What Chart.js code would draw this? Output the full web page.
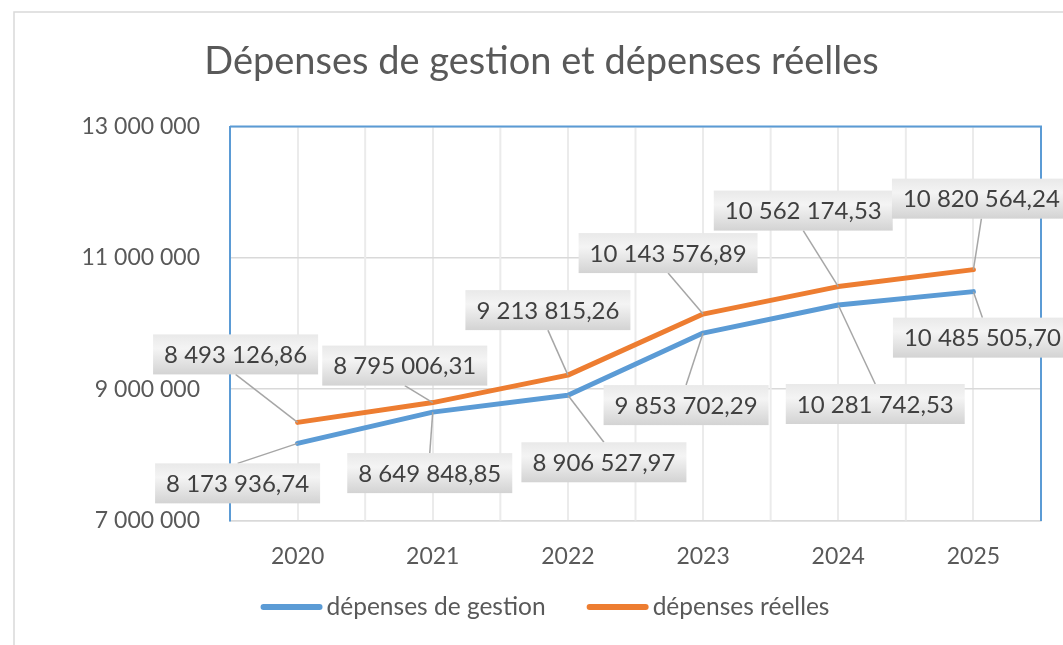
<!DOCTYPE html>
<html>
<head>
<meta charset="utf-8">
<script src="https://cdn.jsdelivr.net/npm/chart.js@4/dist/chart.umd.min.js"></script>
<style>
  html, body { margin: 0; padding: 0; background: #fff; }
  #wrap { width: 1063px; height: 645px; }
</style>
</head>
<body>
<div id="wrap"><canvas id="myChart" width="1063" height="645"></canvas></div>
<script>
const years = ['2020', '2021', '2022', '2023', '2024', '2025'];
const depensesGestion = [8173936.74, 8649848.85, 8906527.97, 9853702.29, 10281742.53, 10485505.70];
const depensesReelles = [8493126.86, 8795006.31, 9213815.26, 10143576.89, 10562174.53, 10820564.24];
const yTicks = [7000000, 9000000, 11000000, 13000000];
const seriesNames = ['dépenses de gestion', 'dépenses réelles'];

// label box offsets from their point (px), per series
const labelOffsets = [
  [[-60, 40], [-3, 61], [36, 67], [-17, 72], [37, 99], [9, 46]],
  [[-62, -68], [-28, -37], [-20, -65], [-35, -61], [-35, -76], [8, -71]]
];

const blue = '#5B9BD5';
const orange = '#ED7D31';
const textGrey = '#595959';

function frNumber(v, decimals) {
  const fixed = v.toFixed(decimals);
  const [intPart, decPart] = fixed.split('.');
  const grouped = intPart.replace(/\B(?=(\d{3})+(?!\d))/g, ' ');
  return decPart ? grouped + ',' + decPart : grouped;
}

const framePlugin = {
  id: 'frame',
  beforeDraw(chart) {
    const ctx = chart.ctx;
    ctx.save();
    ctx.fillStyle = '#fff';
    ctx.fillRect(0, 0, chart.width, chart.height);
    ctx.strokeStyle = '#d9d9d9';
    ctx.lineWidth = 1.5;
    ctx.strokeRect(14, 12, chart.width + 50, chart.height + 50);
    ctx.restore();
  },
  beforeDatasetsDraw(chart) {
    const {ctx, chartArea, scales} = chart;
    const xs = scales.x;
    ctx.save();
    // vertical gridlines between categories
    ctx.strokeStyle = '#ebebeb';
    ctx.lineWidth = 2;
    for (let i = 0; i < years.length - 1; i++) {
      const px = (xs.getPixelForValue(i) + xs.getPixelForValue(i + 1)) / 2;
      ctx.beginPath();
      ctx.moveTo(px, chartArea.top);
      ctx.lineTo(px, chartArea.bottom);
      ctx.stroke();
    }
    // top border of plot area
    ctx.strokeStyle = blue;
    ctx.lineWidth = 2;
    ctx.beginPath();
    ctx.moveTo(chartArea.left, chartArea.top);
    ctx.lineTo(chartArea.right + 1, chartArea.top);
    ctx.stroke();
    ctx.restore();
  },
  afterDraw(chart) {
    // legend, drawn by hand so the spacing matches
    const ctx = chart.ctx;
    ctx.save();
    ctx.font = '24.5px Lato';
    ctx.textBaseline = 'middle';
    const sampleW = 62, gap = 4, itemGap = 41, y = 607;
    const items = chart.data.datasets.map(ds => ({ text: ds.label, color: ds.borderColor, w: ctx.measureText(ds.label).width }));
    const total = items.reduce((s, it) => s + sampleW + gap + it.w, 0) + itemGap * (items.length - 1);
    let x = 545 - total / 2;
    items.forEach(it => {
      ctx.strokeStyle = it.color;
      ctx.lineWidth = 6;
      ctx.lineCap = 'round';
      ctx.beginPath();
      ctx.moveTo(x + 3, y);
      ctx.lineTo(x + sampleW - 3, y);
      ctx.stroke();
      ctx.fillStyle = textGrey;
      ctx.fillText(it.text, x + sampleW + gap, y);
      x += sampleW + gap + it.w + itemGap;
    });
    ctx.restore();
  }
};

const dataLabelPlugin = {
  id: 'boxLabels',
  afterDatasetsDraw(chart) {
    const ctx = chart.ctx;
    ctx.save();
    ctx.font = '24px Lato';
    ctx.textAlign = 'center';
    ctx.textBaseline = 'middle';
    chart.data.datasets.forEach((ds, di) => {
      const meta = chart.getDatasetMeta(di);
      meta.data.forEach((pt, i) => {
        const text = frNumber(ds.data[i], 2);
        const [dx, dy] = labelOffsets[di][i];
        const cx = pt.x + dx;
        const cy = pt.y + dy;
        const w = ctx.measureText(text).width + 22;
        const h = 40;
        const edgeY = pt.y < cy ? cy - h / 2 : cy + h / 2;
        ctx.strokeStyle = '#a6a6a6';
        ctx.lineWidth = 1.5;
        ctx.beginPath();
        ctx.moveTo(cx, edgeY);
        ctx.lineTo(pt.x, pt.y);
        ctx.stroke();
        const grad = ctx.createLinearGradient(0, cy - h / 2, 0, cy + h / 2);
        grad.addColorStop(0, '#e9e9e9');
        grad.addColorStop(0.35, '#f4f4f4');
        grad.addColorStop(1, '#d3d3d3');
        ctx.fillStyle = grad;
        ctx.fillRect(cx - w / 2, cy - h / 2, w, h);
        ctx.fillStyle = '#404040';
        ctx.fillText(text, cx, cy + 1);
      });
    });
    ctx.restore();
  }
};

Chart.defaults.font.family = 'Lato';
Chart.defaults.color = textGrey;

new Chart(document.getElementById('myChart').getContext('2d'), {
  type: 'line',
  data: {
    labels: years,
    datasets: [
      {
        label: seriesNames[0],
        data: depensesGestion,
        borderColor: blue,
        backgroundColor: blue,
        borderWidth: 5,
        borderCapStyle: 'round',
        borderJoinStyle: 'round',
        pointRadius: 0,
        tension: 0
      },
      {
        label: seriesNames[1],
        data: depensesReelles,
        borderColor: orange,
        backgroundColor: orange,
        borderWidth: 5,
        borderCapStyle: 'round',
        borderJoinStyle: 'round',
        pointRadius: 0,
        tension: 0
      }
    ]
  },
  options: {
    responsive: false,
    animation: false,
    layout: { padding: { left: 20, right: 0, top: 0, bottom: 53 } },
    plugins: {
      title: {
        display: true,
        text: 'Dépenses de gestion et dépenses réelles',
        color: textGrey,
        font: { size: 38, weight: 'normal' },
        padding: { top: 39, bottom: 42 }
      },
      legend: { display: false },
      tooltip: { enabled: false }
    },
    scales: {
      x: {
        offset: true,
        grid: { color: '#ebebeb', lineWidth: 2, drawTicks: false },
        border: { color: '#d9d9d9', width: 1.5 },
        ticks: { padding: 22, font: { size: 23 }, color: textGrey }
      },
      y: {
        min: 7000000,
        max: 13000000,
        afterBuildTicks(scale) { scale.ticks = yTicks.map(v => ({ value: v })); },
        afterFit(scale) { scale.width = 210; },
        grid: { color: '#d9d9d9', lineWidth: 1.5, drawTicks: false },
        border: { color: blue, width: 2 },
        ticks: {
          padding: 30,
          font: { size: 23 },
          color: textGrey,
          callback: v => frNumber(v, 0)
        }
      },
      y2: {
        position: 'right',
        min: 7000000,
        max: 13000000,
        afterFit(scale) { scale.width = 22; },
        grid: { drawOnChartArea: false, drawTicks: false },
        border: { color: blue, width: 2 },
        ticks: { display: false }
      }
    }
  },
  plugins: [framePlugin, dataLabelPlugin]
});
</script>
</body>
</html>
